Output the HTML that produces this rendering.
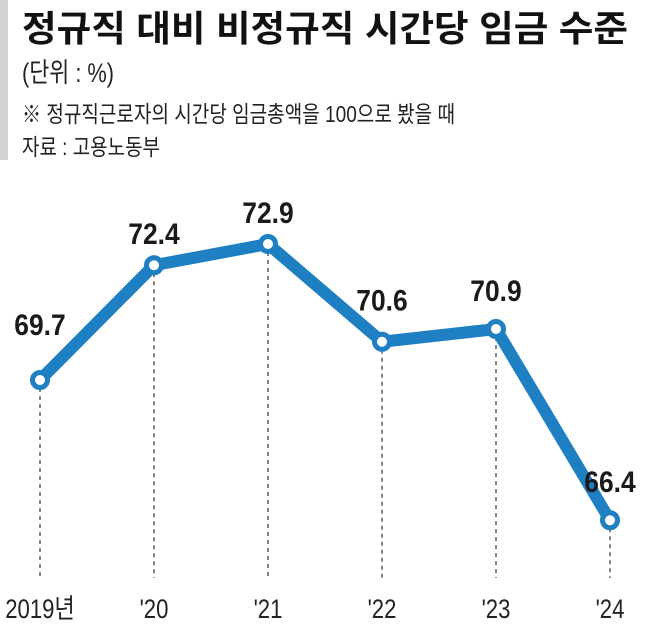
<!DOCTYPE html>
<html><head><meta charset="utf-8"><style>
html,body{margin:0;padding:0;background:#fff;}
svg{display:block;font-family:"Liberation Sans","Noto Sans CJK KR",sans-serif;}
</style></head><body>
<svg width="650" height="626" viewBox="0 0 650 626">
<rect x="0" y="0" width="8" height="160" fill="#d4d4d4"/>
<text x="22" y="41" font-size="36" font-weight="bold" textLength="606" lengthAdjust="spacingAndGlyphs" fill="#111">정규직 대비 비정규직 시간당 임금 수준</text>
<text x="22" y="82" font-size="27" textLength="92" lengthAdjust="spacingAndGlyphs" fill="#222">(단위 : %)</text>
<text x="22" y="122" font-size="23" textLength="433" lengthAdjust="spacingAndGlyphs" fill="#222">※ 정규직근로자의 시간당 임금총액을 100으로 봤을 때</text>
<text x="22" y="155" font-size="23" textLength="138" lengthAdjust="spacingAndGlyphs" fill="#222">자료 : 고용노동부</text>
<g id="plot"></g>
</svg>
<script>
const categories = ["2019년", "'20", "'21", "'22", "'23", "'24"];
const values = [69.7, 72.4, 72.9, 70.6, 70.9, 66.4];
const valueLabels = ["69.7", "72.4", "72.9", "70.6", "70.9", "66.4"];
const labelDy = [45, 21, 21, 31, 28, 28];
const NS = "http://www.w3.org/2000/svg";
const g = document.getElementById('plot');
function xScale(i){ return 40 + i * 114; }
function yScale(v){ return 380 - (v - 69.7) * 42.5; }
function mk(tag, attrs){ const e = document.createElementNS(NS, tag); for (const k in attrs) e.setAttribute(k, attrs[k]); g.appendChild(e); return e; }
categories.forEach((c, i) => {
  const x = xScale(i), y = yScale(values[i]);
  const l = mk('line', {x1:x, y1:y, x2:x, y2:578, stroke:'#333', 'stroke-width':1.2, 'stroke-dasharray':'4 4'});
  
  
  const t = mk('text', {x:x, y:618, 'font-size':27, 'text-anchor':'middle', fill:'#222', transform:`translate(${x} 0) scale(0.82 1) translate(${-x} 0)`});
  t.textContent = c;
  
  
});
const pts = values.map((v, i) => xScale(i) + ',' + yScale(v)).join(' ');
const line = mk('polyline', {points:pts, fill:'none', stroke:'#1f7fc3', 'stroke-width':12, 'stroke-linejoin':'round'});


values.forEach((v, i) => {
  const x = xScale(i), y = yScale(v);
  const c = mk('circle', {cx:x, cy:y, r:7.5, fill:'#fff', stroke:'#1f7fc3', 'stroke-width':5});
  
  
  const t = mk('text', {x:x, y:y - labelDy[i], 'font-size':30, 'font-weight':'bold', 'text-anchor':'middle', fill:'#1a1a1a', transform:`translate(${x} 0) scale(0.88 1) translate(${-x} 0)`});
  t.textContent = valueLabels[i];
  
  
});
</script>
</body></html>
